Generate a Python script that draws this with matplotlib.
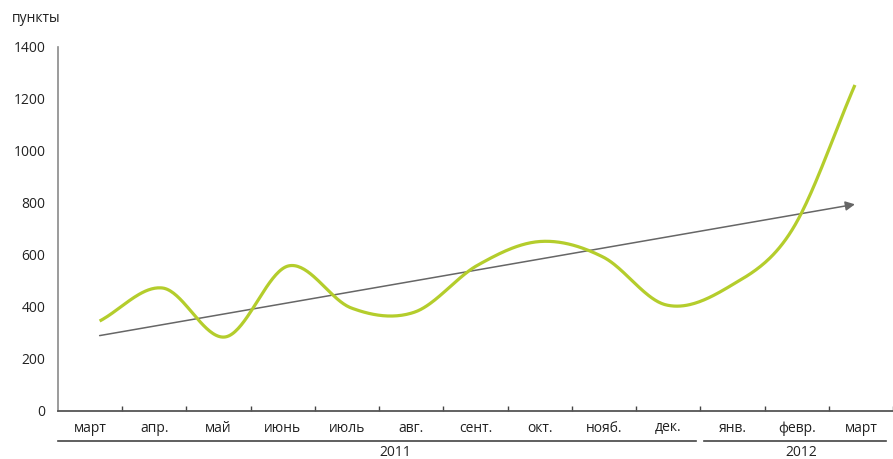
import numpy as np
import matplotlib
matplotlib.use("Agg")
import matplotlib.pyplot as plt
from matplotlib.lines import Line2D
import matplotlib.transforms as mtransforms

plt.rcParams['font.family'] = ['Open Sans', 'DejaVu Sans']

# Monthly index values, March 2011 - March 2012
months = ['март', 'апр.', 'май', 'июнь', 'июль', 'авг.', 'сент.',
          'окт.', 'нояб.', 'дек.', 'янв.', 'февр.', 'март']
values = [346, 473, 285, 558, 396, 380, 560, 652, 592, 408, 478, 696, 1254]
trend = [290, 795]          # start / end of the trend arrow
years = ['2011', '2012']
y_ticks = [0, 200, 400, 600, 800, 1000, 1200, 1400]

GREEN = '#b4cd2c'
GREY = '#666666'
TEXT = '#222222'

x = np.arange(len(values), dtype=float)
y = np.array(values, dtype=float)


def catmull_rom(xs, ys, n=40):
    """Smooth curve through the points (uniform Catmull-Rom spline)."""
    m = np.zeros_like(ys)
    m[1:-1] = (ys[2:] - ys[:-2]) / 2.0
    m[0] = ys[1] - ys[0]
    m[-1] = ys[-1] - ys[-2]
    out_x, out_y = [], []
    for i in range(len(xs) - 1):
        t = np.linspace(0, 1, n, endpoint=False)
        h00 = 2 * t**3 - 3 * t**2 + 1
        h10 = t**3 - 2 * t**2 + t
        h01 = -2 * t**3 + 3 * t**2
        h11 = t**3 - t**2
        out_x.append(xs[i] + t * (xs[i + 1] - xs[i]))
        out_y.append(h00 * ys[i] + h10 * m[i] + h01 * ys[i + 1] + h11 * m[i + 1])
    out_x.append([xs[-1]])
    out_y.append([ys[-1]])
    return np.concatenate(out_x), np.concatenate(out_y)


fig = plt.figure(figsize=(8.93, 4.59), dpi=100)
W, H = 893, 459
ax_left, ax_bottom, ax_top = 58, 411, 47
ax = fig.add_axes([ax_left / W, (H - ax_bottom) / H,
                   (W - ax_left) / W, (ax_bottom - ax_top) / H])

# horizontal scale: one month step = 63.5 px, first point at x=100 px
step_px = 63.5
x0_px = 100
band = 64.8 / step_px                 # width of a month band on the axis
edge0 = (ax_left - x0_px) / step_px   # left edge of the first band
ax.set_xlim(edge0, (W - x0_px) / step_px)
ax.set_ylim(0, 1400)

sx, sy = catmull_rom(x, y)
ax.plot(sx, sy, color=GREEN, lw=2.3, solid_capstyle='butt', zorder=3)

ax.annotate('', xy=(x[-1], trend[1]), xytext=(x[0], trend[0]),
            arrowprops=dict(arrowstyle='-|>', color=GREY, lw=1.1,
                            mutation_scale=14, shrinkA=0, shrinkB=0),
            zorder=2)

# axes styling
for s in ('top', 'right'):
    ax.spines[s].set_visible(False)
ax.spines['left'].set_color('#8a8a8a')
ax.spines['left'].set_linewidth(1.2)
ax.spines['bottom'].set_color('#555555')
ax.spines['bottom'].set_linewidth(1.3)

ax.set_yticks(y_ticks)
ax.set_yticklabels([str(v) for v in y_ticks], fontsize=10, color=TEXT)
ax.tick_params(axis='y', length=0, pad=9)

edges = [edge0 + k * band for k in range(1, len(months) + 1)]
ax.set_xticks(edges)
ax.set_xticklabels([])
ax.tick_params(axis='x', direction='in', length=3.5, width=1.0,
               color='#444444')

fig_trans = mtransforms.blended_transform_factory(ax.transData, fig.transFigure)
for k, name in enumerate(months):
    cx = edge0 + (k + 0.5) * band
    ax.text(cx, (H - 428) / H, name, transform=fig_trans, ha='center',
            va='center', fontsize=10, color=TEXT)

# year brackets under the month labels
split = edge0 + 10 * band
line_y = (H - 441) / H
gap = 4 / step_px
ax.add_line(Line2D([edge0, split - gap], [line_y, line_y], transform=fig_trans,
                   color='#444444', lw=1.2, clip_on=False))
ax.add_line(Line2D([split + gap, (W - x0_px) / step_px], [line_y, line_y],
                   transform=fig_trans, color='#444444', lw=1.2, clip_on=False))
year_pos = [(398 - x0_px) / step_px, (808 - x0_px) / step_px]
for pos, label in zip(year_pos, years):
    ax.text(pos, (H - 452) / H, label, transform=fig_trans, ha='center',
            va='center', fontsize=10, color=TEXT)

fig.text(12 / W, (H - 18) / H, 'пункты', ha='left', va='center',
         fontsize=10, color=TEXT)

fig.savefig('out.png', dpi=100)
